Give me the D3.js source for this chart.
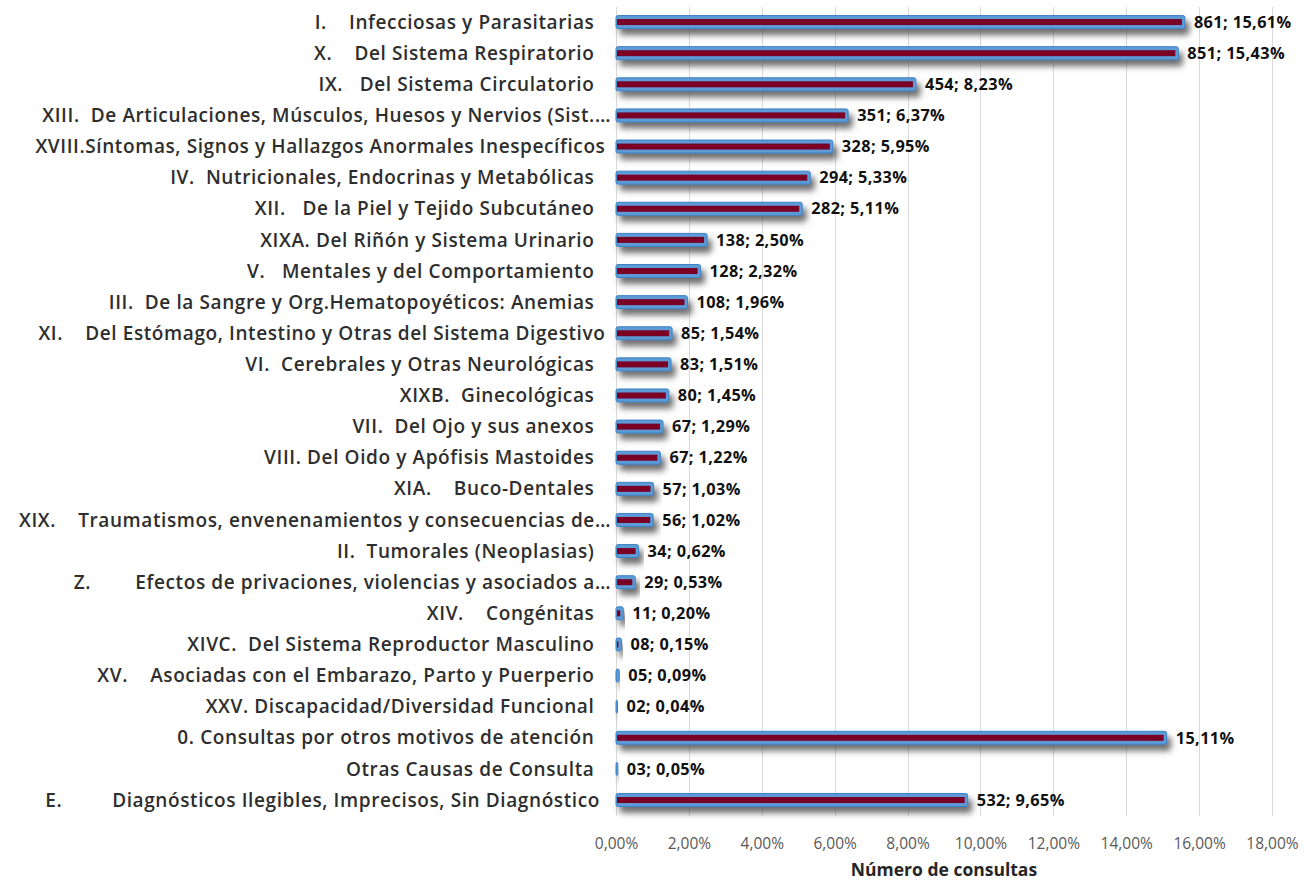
<!DOCTYPE html>
<html lang="es">
<head>
<meta charset="utf-8">
<title>Número de consultas</title>
<script src="https://cdn.jsdelivr.net/npm/d3@7/dist/d3.min.js"></script>
<style>
    body { margin: 0; background: #fff; }
    .cat text { font-family: "Open Sans", sans-serif; font-size: 19px; font-weight: 600; letter-spacing: 0.6px; fill: #2e2e2e; white-space: pre; }
    .x-axis text { font-family: "Open Sans", sans-serif; font-size: 15.5px; fill: #595959; }
    .x-axis path, .x-axis line { display: none; }
    .grid line { stroke: #d9d9d9; shape-rendering: crispEdges; }
    .val { font-family: "Open Sans", sans-serif; font-size: 16.3px; font-weight: 700; letter-spacing: 0.4px; fill: #111; }
</style>
</head>
<body>
<script>
// data (labels keep the trailing blanks of the original)
var categories = [
    "I.    Infecciosas y Parasitarias   ",
    "X.    Del Sistema Respiratorio   ",
    "IX.   Del Sistema Circulatorio   ",
    "XIII.  De Articulaciones, Músculos, Huesos y Nervios (Sist.…",
    "XVIII.Síntomas, Signos y Hallazgos Anormales Inespecíficos ",
    "IV.  Nutricionales, Endocrinas y Metabólicas   ",
    "XII.   De la Piel y Tejido Subcutáneo   ",
    "XIXA. Del Riñón y Sistema Urinario   ",
    "V.   Mentales y del Comportamiento   ",
    "III.  De la Sangre y Org.Hematopoyéticos: Anemias   ",
    "XI.    Del Estómago, Intestino y Otras del Sistema Digestivo ",
    "VI.  Cerebrales y Otras Neurológicas   ",
    "XIXB.  Ginecológicas   ",
    "VII.  Del Ojo y sus anexos   ",
    "VIII. Del Oido y Apófisis Mastoides   ",
    "XIA.    Buco-Dentales   ",
    "XIX.    Traumatismos, envenenamientos y consecuencias de…",
    "II.  Tumorales (Neoplasias)   ",
    "Z.        Efectos de privaciones, violencias y asociados a…",
    "XIV.    Congénitas   ",
    "XIVC.  Del Sistema Reproductor Masculino   ",
    "XV.    Asociadas con el Embarazo, Parto y Puerperio   ",
    "XXV. Discapacidad/Diversidad Funcional   ",
    "0. Consultas por otros motivos de atención   ",
    "Otras Causas de Consulta   ",
    "E.         Diagnósticos Ilegibles, Imprecisos, Sin Diagnóstico  "
];
var counts = ["861", "851", "454", "351", "328", "294", "282", "138", "128", "108", "85", "83", "80",
    "67", "67", "57", "56", "34", "29", "11", "08", "05", "02", "", "03", "532"];
var percents = [15.61, 15.43, 8.23, 6.37, 5.95, 5.33, 5.11, 2.50, 2.32, 1.96, 1.54, 1.51, 1.45,
    1.29, 1.22, 1.03, 1.02, 0.62, 0.53, 0.20, 0.15, 0.09, 0.04, 15.11, 0.05, 9.65];
var xTicks = [0, 2, 4, 6, 8, 10, 12, 14, 16, 18];
var axisTitle = "Número de consultas";

var width = 1304, height = 882;
var plotLeft = 616, plotRight = 1272, plotTop = 6.5, plotBottom = 815.6;

var rows = categories.map(function(c, i) {
    return { cat: c, count: counts[i], pct: percents[i] };
});

var svg = d3.select("body").append("svg")
    .attr("width", width)
    .attr("height", height);

// drop shadow under the bars
var defs = svg.append("defs");
var f = defs.append("filter").attr("id", "shadow")
    .attr("x", "-10%").attr("y", "-80%").attr("width", "130%").attr("height", "300%");
f.append("feDropShadow")
    .attr("dx", 4).attr("dy", 6).attr("stdDeviation", 3)
    .attr("flood-color", "#4a4a4a").attr("flood-opacity", 0.8);

var xScale = d3.scaleLinear().domain([0, 18]).range([plotLeft, plotRight]);
var yScale = d3.scaleBand().domain(categories).range([plotTop, plotBottom]).paddingInner(0);

// gridlines
svg.append("g").attr("class", "grid")
    .selectAll("line")
    .data(xTicks)
    .enter().append("line")
    .attr("x1", function(d) { return Math.round(xScale(d)) + 0.5; })
    .attr("x2", function(d) { return Math.round(xScale(d)) + 0.5; })
    .attr("y1", plotTop)
    .attr("y2", plotBottom);

// x axis tick labels
var xAxis = d3.axisBottom(xScale)
    .tickValues(xTicks)
    .tickSize(0)
    .tickPadding(0)
    .tickFormat(function(d) { return d.toFixed(2).replace(".", ",") + "%"; });
svg.append("g").attr("class", "x-axis")
    .attr("transform", "translate(0," + 838 + ")")
    .call(xAxis);

svg.append("text")
    .attr("x", (plotLeft + plotRight) / 2)
    .attr("y", 876)
    .attr("text-anchor", "middle")
    .attr("font-family", "Open Sans, sans-serif")
    .attr("font-size", "17.5px")
    .attr("font-weight", 700)
    .attr("fill", "#262626")
    .text(axisTitle);

// category labels
svg.append("g").attr("class", "cat")
    .selectAll("text")
    .data(rows)
    .enter().append("text")
    .attr("xml:space", "preserve")
    .attr("x", 611)
    .attr("y", function(d) { return yScale(d.cat) + yScale.bandwidth() / 2; })
    .attr("dy", "0.35em")
    .attr("text-anchor", "end")
    .text(function(d) { return d.cat; });

// bars
var bar = svg.append("g").selectAll("g")
    .data(rows)
    .enter().append("g")
    .attr("transform", function(d) { return "translate(0," + (yScale(d.cat) + yScale.bandwidth() / 2) + ")"; });

bar.append("rect")
    .attr("x", xScale(0))
    .attr("y", -6.5)
    .attr("height", 13)
    .attr("width", function(d) { return Math.max(xScale(d.pct) - xScale(0), 1.5); })
    .attr("rx", 2)
    .attr("fill", "#5b9bd5")
    .attr("stroke", "#3f82c6")
    .attr("stroke-width", 1)
    .attr("filter", "url(#shadow)");

bar.append("rect")
    .attr("x", xScale(0) + 1)
    .attr("y", -3)
    .attr("height", 6)
    .attr("width", function(d) { return Math.max(xScale(d.pct) - xScale(0) - 4, 0); })
    .attr("fill", "#7a0026");

// value labels
bar.append("text")
    .attr("class", "val")
    .attr("x", function(d) { return xScale(d.pct) + 9; })
    .attr("y", 0)
    .attr("dy", "0.35em")
    .text(function(d) {
        var p = d.pct.toFixed(2).replace(".", ",") + "%";
        return d.count ? d.count + "; " + p : p;
    });
</script>
</body>
</html>
